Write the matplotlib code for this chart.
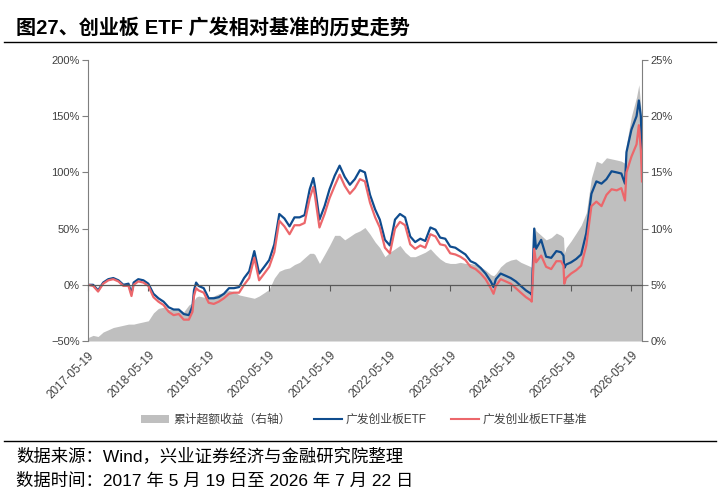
import matplotlib
matplotlib.use('Agg')
import matplotlib.pyplot as plt
import matplotlib.transforms as mtransforms
from matplotlib.lines import Line2D
from matplotlib.patches import Patch
import pandas as pd

plt.rcParams['font.family'] = ['Liberation Sans', 'Noto Sans CJK SC', 'DejaVu Sans']
plt.rcParams['axes.unicode_minus'] = True

# values (left axis: %, right axis: %)
dates = [
    '2017-05-19', '2017-06-19', '2017-07-19', '2017-08-19', '2017-09-19', '2017-10-19',
    '2017-11-19', '2017-12-19', '2018-01-19', '2018-02-06', '2018-02-19', '2018-03-19',
    '2018-04-19', '2018-05-19', '2018-06-19', '2018-07-19', '2018-08-19', '2018-09-19',
    '2018-10-19', '2018-11-19', '2018-12-19', '2019-01-19', '2019-02-10', '2019-02-19',
    '2019-03-04', '2019-03-19', '2019-04-19', '2019-05-19', '2019-06-19', '2019-07-19',
    '2019-08-19', '2019-09-19', '2019-10-19', '2019-11-19', '2019-12-19', '2020-01-19',
    '2020-02-19', '2020-03-19', '2020-04-19', '2020-05-19', '2020-06-19', '2020-07-19',
    '2020-08-19', '2020-09-19', '2020-10-19', '2020-11-19', '2020-12-19', '2021-01-19',
    '2021-02-10', '2021-02-19', '2021-03-19', '2021-04-19', '2021-05-19', '2021-06-19',
    '2021-07-19', '2021-08-19', '2021-09-19', '2021-10-19', '2021-11-19', '2021-12-19',
    '2022-01-19', '2022-02-19', '2022-03-19', '2022-04-19', '2022-05-19', '2022-06-19',
    '2022-07-19', '2022-08-19', '2022-09-19', '2022-10-19', '2022-11-19', '2022-12-19',
    '2023-01-19', '2023-02-19', '2023-03-19', '2023-04-19', '2023-05-19', '2023-06-19',
    '2023-07-19', '2023-08-19', '2023-09-19', '2023-10-19', '2023-11-19', '2023-12-19',
    '2024-01-19', '2024-02-05', '2024-02-19', '2024-03-19', '2024-04-19', '2024-05-19',
    '2024-06-19', '2024-07-19', '2024-08-19', '2024-09-19', '2024-09-23', '2024-10-08',
    '2024-10-19', '2024-11-19', '2024-12-19', '2025-01-19', '2025-02-19', '2025-03-19',
    '2025-04-03', '2025-04-08', '2025-04-19', '2025-05-19', '2025-06-19', '2025-07-19',
    '2025-08-19', '2025-09-19', '2025-10-19', '2025-11-19', '2025-12-19', '2026-01-19',
    '2026-02-19', '2026-03-19', '2026-04-10', '2026-04-19', '2026-05-19', '2026-06-19',
    '2026-07-03', '2026-07-15', '2026-07-22',
]

etf = [
    0, 0, -5, 2, 5, 6,
    4, 0, 1, -8, 2, 5,
    4, 1, -8, -12, -15, -20,
    -22, -22, -26, -27, -19, -5,
    2, -1, -3, -12, -12, -11,
    -8, -3, -3, -2, 6, 12,
    30, 10, 16, 22, 36, 63,
    59, 52, 60, 60, 62, 85,
    95, 88, 58, 70, 85, 97,
    106, 96, 89, 94, 102, 100,
    80, 67, 58, 40, 35, 58,
    63, 60, 43, 38, 41, 39,
    51, 49, 42, 41, 34, 33,
    30, 27, 21, 19, 15, 10,
    3, -2, 5, 10, 8, 6,
    3, -1, -5, -8, -9, 50,
    32, 40, 25, 24, 30, 29,
    26, 15, 18, 20, 23, 27,
    46, 81, 92, 90, 94, 101,
    100, 99, 90, 118, 138, 150,
    164, 150, 120,
]

benchmark = [
    0, -1, -6, 1, 4, 5,
    3, -1, -1, -10, 0, 3,
    2, -1, -11, -15, -18, -24,
    -27, -26, -31, -31, -24, -10,
    -3, -5, -7, -16, -17, -15,
    -12, -8, -7, -7, 0, 6,
    24, 4, 10, 16, 29, 57,
    52, 45, 53, 53, 55, 77,
    87, 80, 51, 63, 77, 88,
    98, 88, 81, 86, 94, 92,
    73, 60, 51, 33, 28, 50,
    56, 53, 36, 32, 35, 33,
    45, 43, 36, 35, 28, 27,
    25, 22, 16, 14, 10, 5,
    -3, -8, -1, 5, 3, 1,
    -3, -7, -11, -14, -15, 32,
    20, 26, 16, 14, 21, 21,
    17, 1, 6, 10, 13, 17,
    35, 70, 74, 70, 80, 85,
    84, 86, 75, 100, 114, 125,
    142, 120, 92,
]

excess = [
    0.3, 0.5, 0.4, 0.8, 1.0, 1.2,
    1.3, 1.4, 1.5, 1.5, 1.5, 1.6,
    1.7, 1.8, 2.5, 2.9, 3.0, 2.8,
    2.8, 2.8, 2.6, 3.2, 3.4, 3.6,
    3.9, 4.0, 3.9, 3.9, 4.0, 4.2,
    4.3, 4.5, 4.4, 4.1, 4.0, 3.9,
    3.8, 4.0, 4.3, 4.6, 5.6, 6.2,
    6.4, 6.5, 6.8, 7.0, 7.4, 7.8,
    7.8, 7.7, 6.9, 7.7, 8.5, 9.4,
    9.4, 9.0, 9.3, 9.6, 9.8, 10.1,
    9.5, 8.8, 8.3, 7.5, 7.9, 8.2,
    8.5, 7.9, 7.5, 7.5, 7.7, 7.9,
    8.2, 7.7, 7.3, 7.0, 6.9, 6.9,
    7.0, 6.9, 6.9, 6.8, 6.6, 6.3,
    5.9, 5.8, 6.0, 6.6, 7.0, 7.2,
    7.3, 7.0, 6.8, 6.6, 6.5, 10.2,
    9.8, 9.4, 9.0, 9.2, 9.6, 9.4,
    9.2, 7.8, 8.3, 8.9, 9.6, 10.3,
    11.4, 14.5, 16.0, 15.8, 16.3, 16.2,
    16.1, 16.0, 15.8, 17.5, 20.0, 21.7,
    22.8, 20.8, 17.0,
]

tick_dates = ['2017-05-19', '2018-05-19', '2019-05-19', '2020-05-19', '2021-05-19',
              '2022-05-19', '2023-05-19', '2024-05-19', '2025-05-19', '2026-05-19']

title = '图27、创业板 ETF 广发相对基准的历史走势'
source_1 = '数据来源：Wind，兴业证券经济与金融研究院整理'
source_2 = '数据时间：2017 年 5 月 19 日至 2026 年 7 月 22 日'

BLUE = '#0F4C8E'
RED = '#EC676B'
GREY = '#BFBFBF'
AXIS = '#7F7F7F'
TXT = '#404040'

x = pd.to_datetime(dates)

fig = plt.figure(figsize=(7.2, 4.99), dpi=100)
fig.patch.set_facecolor('white')

ax = fig.add_axes([88 / 720, 1 - 341 / 499, (642 - 88) / 720, 281 / 499])
ax2 = ax.twinx()

# grey area on the right axis, lines on top of it
ax2.fill_between(x, 0, excess, color=GREY, linewidth=0)
ax2.set_ylim(0, 25)
ax2.set_yticks(range(0, 30, 5))
ax2.set_yticklabels([f'{v}%' for v in range(0, 30, 5)])

ax.set_zorder(ax2.get_zorder() + 1)
ax.patch.set_visible(False)

ax.plot(x, etf, color=BLUE, linewidth=1.6)
ax.plot(x, benchmark, color=RED, linewidth=1.6)
ax.set_ylim(-50, 200)
ax.set_yticks(range(-50, 250, 50))
ax.set_yticklabels([f'{v}%'.replace('-', '\u2212') for v in range(-50, 250, 50)])
ax.set_xlim(pd.Timestamp('2017-05-19'), pd.Timestamp('2026-07-22'))

# x axis sits on the 0% line, labels at the bottom of the plot
ax.spines['bottom'].set_position(('data', 0))
ax.spines['bottom'].set_color('#595959')
ax.spines['bottom'].set_linewidth(0.9)
ax.spines['top'].set_visible(False)
ax.spines['right'].set_visible(False)
ax.spines['left'].set_color(AXIS)
ax2.spines['top'].set_visible(False)
ax2.spines['bottom'].set_visible(False)
ax2.spines['left'].set_visible(False)
ax2.spines['right'].set_color(AXIS)

ticks = pd.to_datetime(tick_dates)
ax.set_xticks(ticks)
ax.tick_params(axis='x', direction='out', length=4, color='#595959', labelbottom=False)
ax.tick_params(axis='y', direction='out', length=4, color=AXIS, labelsize=8, labelcolor=TXT, pad=2)
ax2.tick_params(axis='y', direction='out', length=4, color=AXIS, labelsize=8, labelcolor=TXT, pad=2)

trans = mtransforms.blended_transform_factory(ax.transData, ax.transAxes)
for t, lab in zip(ticks, tick_dates):
    ax.text(t, -0.03, lab, transform=trans, rotation=45, ha='right', va='top',
            rotation_mode='anchor', fontsize=8.5, color=TXT)

# legend
handles = [Patch(facecolor=GREY, edgecolor='none'),
           Line2D([], [], color=BLUE, linewidth=1.5),
           Line2D([], [], color=RED, linewidth=1.5)]
labels = ['累计超额收益（右轴）', '广发创业板ETF', '广发创业板ETF基准']
fig.legend(handles, labels, loc='center', bbox_to_anchor=(364 / 720, 1 - 420 / 499),
           ncol=3, frameon=False, fontsize=8.5, handlelength=2.4, handletextpad=0.3,
           columnspacing=2.0, labelcolor=TXT)

# title, rules and source notes
fig.text(16 / 720, 1 - 28 / 499, title, fontsize=14.5, fontweight='bold',
         ha='left', va='center', color='black')
fig.add_artist(Line2D([4 / 720, 716 / 720], [1 - 42 / 499] * 2, color='black', linewidth=1.0))
fig.add_artist(Line2D([4 / 720, 716 / 720], [1 - 441 / 499] * 2, color='black', linewidth=1.0))
fig.text(16 / 720, 1 - 456 / 499, source_1, fontsize=12.5, ha='left', va='center', color='black')
fig.text(16 / 720, 1 - 481 / 499, source_2, fontsize=12.5, ha='left', va='center', color='black')

fig.savefig('out.png', dpi=100, facecolor='white')
